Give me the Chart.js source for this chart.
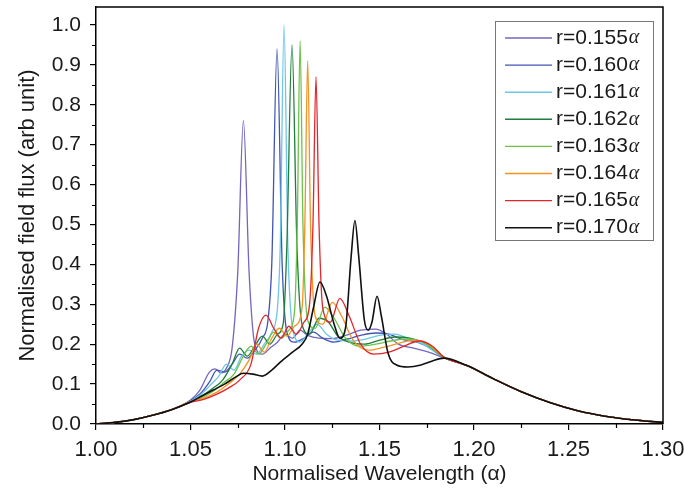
<!DOCTYPE html>
<html>
<head>
<meta charset="utf-8">
<script src="https://cdn.jsdelivr.net/npm/chart.js@4.4.1/dist/chart.umd.min.js"></script>
<style>
  html, body { margin: 0; padding: 0; background: #fff; }
  #wrap { width: 684px; height: 498px; }
</style>
</head>
<body>
<div id="wrap"><canvas id="flux-chart"></canvas></div>
<script>
// radius labels and colours of the curves
const radii = ['0.155', '0.160', '0.161', '0.162', '0.163', '0.164', '0.165', '0.170'];
const colours = ['#7466bf', '#3f55b3', '#6cc6e6', '#1f7d3f', '#6cc24a', '#f39322', '#e2262b', '#111111'];

// shared tails (left rise and right fall)
const leftX = [1.000, 1.010, 1.020, 1.030, 1.040];
const leftY = [0.000, 0.004, 0.011, 0.022, 0.036];
const rightX = [1.196, 1.210, 1.225, 1.240, 1.255, 1.270, 1.285, 1.300];
const rightY = [0.147, 0.114, 0.081, 0.054, 0.033, 0.019, 0.010, 0.004];

// r = 0.155a
const r155x = [1.050, 1.055, 1.060, 1.063, 1.066, 1.069, 1.072, 1.075, 1.078, 1.081, 1.084, 1.088, 1.092, 1.096, 1.100, 1.104, 1.108, 1.112, 1.118, 1.125, 1.132, 1.140, 1.148, 1.153, 1.160, 1.168, 1.176, 1.184];
const r155y = [0.060, 0.085, 0.130, 0.138, 0.128, 0.140, 0.190, 0.380, 0.760, 0.380, 0.200, 0.175, 0.190, 0.205, 0.225, 0.215, 0.235, 0.222, 0.215, 0.214, 0.222, 0.235, 0.238, 0.228, 0.200, 0.190, 0.180, 0.166];
// r = 0.160a
const r160x = [1.050, 1.055, 1.060, 1.064, 1.068, 1.072, 1.076, 1.080, 1.084, 1.088, 1.091, 1.093, 1.0958, 1.0985, 1.101, 1.105, 1.110, 1.115, 1.120, 1.126, 1.133, 1.140, 1.148, 1.155, 1.162, 1.170, 1.178, 1.184];
const r160y = [0.058, 0.075, 0.105, 0.135, 0.130, 0.150, 0.175, 0.165, 0.185, 0.215, 0.260, 0.400, 0.940, 0.400, 0.230, 0.205, 0.215, 0.230, 0.215, 0.205, 0.213, 0.222, 0.228, 0.225, 0.212, 0.205, 0.187, 0.167];
// r = 0.161a
const r161x = [1.050, 1.055, 1.060, 1.065, 1.069, 1.073, 1.077, 1.081, 1.085, 1.089, 1.093, 1.096, 1.0975, 1.0995, 1.1015, 1.104, 1.108, 1.112, 1.117, 1.122, 1.128, 1.135, 1.142, 1.150, 1.158, 1.165, 1.173, 1.184];
const r161y = [0.057, 0.072, 0.095, 0.120, 0.150, 0.135, 0.170, 0.185, 0.175, 0.200, 0.230, 0.290, 0.450, 1.000, 0.450, 0.240, 0.205, 0.225, 0.250, 0.225, 0.210, 0.208, 0.212, 0.222, 0.225, 0.215, 0.200, 0.167];
// r = 0.162a
const r162x = [1.050, 1.056, 1.062, 1.067, 1.072, 1.076, 1.080, 1.084, 1.088, 1.092, 1.096, 1.099, 1.101, 1.1037, 1.1063, 1.109, 1.113, 1.118, 1.123, 1.128, 1.134, 1.142, 1.150, 1.158, 1.166, 1.175, 1.184];
const r162y = [0.055, 0.070, 0.090, 0.110, 0.150, 0.190, 0.170, 0.195, 0.220, 0.200, 0.225, 0.250, 0.450, 0.950, 0.450, 0.250, 0.225, 0.265, 0.255, 0.220, 0.205, 0.200, 0.210, 0.218, 0.215, 0.200, 0.167];
// r = 0.163a
const r163x = [1.050, 1.056, 1.062, 1.068, 1.073, 1.078, 1.082, 1.086, 1.090, 1.094, 1.098, 1.102, 1.105, 1.1065, 1.108, 1.1095, 1.112, 1.116, 1.121, 1.126, 1.132, 1.140, 1.148, 1.156, 1.164, 1.173, 1.184];
const r163y = [0.055, 0.066, 0.082, 0.105, 0.125, 0.170, 0.195, 0.175, 0.200, 0.230, 0.215, 0.235, 0.280, 0.500, 0.960, 0.500, 0.260, 0.240, 0.293, 0.265, 0.215, 0.195, 0.200, 0.208, 0.213, 0.205, 0.168];
// r = 0.164a
const r164x = [1.050, 1.057, 1.064, 1.070, 1.076, 1.081, 1.085, 1.089, 1.093, 1.097, 1.101, 1.105, 1.109, 1.1105, 1.112, 1.1135, 1.116, 1.120, 1.125, 1.130, 1.136, 1.144, 1.152, 1.160, 1.168, 1.176, 1.184];
const r164y = [0.056, 0.065, 0.080, 0.100, 0.125, 0.160, 0.200, 0.180, 0.215, 0.240, 0.220, 0.245, 0.290, 0.500, 0.910, 0.500, 0.270, 0.250, 0.305, 0.270, 0.210, 0.185, 0.192, 0.202, 0.210, 0.200, 0.168];
// r = 0.165a
const r165x = [1.050, 1.057, 1.064, 1.070, 1.076, 1.082, 1.086, 1.090, 1.094, 1.098, 1.102, 1.106, 1.110, 1.113, 1.1148, 1.1164, 1.118, 1.120, 1.124, 1.129, 1.134, 1.140, 1.147, 1.155, 1.163, 1.171, 1.178, 1.184];
const r165y = [0.054, 0.062, 0.075, 0.090, 0.110, 0.150, 0.240, 0.273, 0.240, 0.215, 0.245, 0.225, 0.255, 0.300, 0.500, 0.870, 0.500, 0.290, 0.255, 0.315, 0.270, 0.200, 0.175, 0.180, 0.195, 0.208, 0.195, 0.168];
// r = 0.170a
const r170x = [1.050, 1.056, 1.062, 1.068, 1.074, 1.078, 1.083, 1.088, 1.093, 1.098, 1.104, 1.109, 1.112, 1.115, 1.1185, 1.122, 1.126, 1.129, 1.132, 1.135, 1.137, 1.139, 1.142, 1.144, 1.146, 1.1487, 1.151, 1.1545, 1.159, 1.165, 1.172, 1.178, 1.184];
const r170y = [0.055, 0.070, 0.085, 0.100, 0.118, 0.127, 0.125, 0.120, 0.135, 0.157, 0.180, 0.200, 0.225, 0.290, 0.356, 0.320, 0.250, 0.215, 0.240, 0.420, 0.510, 0.420, 0.260, 0.235, 0.255, 0.320, 0.270, 0.178, 0.148, 0.143, 0.148, 0.158, 0.165];

const xTicks = [1.00, 1.05, 1.10, 1.15, 1.20, 1.25, 1.30];
const yTicks = [0.0, 0.1, 0.2, 0.3, 0.4, 0.5, 0.6, 0.7, 0.8, 0.9, 1.0];

const seriesX = [r155x, r160x, r161x, r162x, r163x, r164x, r165x, r170x];
const seriesY = [r155y, r160y, r161y, r162y, r163y, r164y, r165y, r170y];

function toPoints(xs, ys) {
    const allX = leftX.concat(xs, rightX);
    const allY = leftY.concat(ys, rightY);
    return allX.map((x, i) => ({ x: x, y: allY[i] }));
}

const datasets = radii.map((r, i) => ({
    label: 'r=' + r + 'α',
    data: toPoints(seriesX[i], seriesY[i]),
    borderColor: colours[i],
    borderWidth: i === 7 ? 1.6 : 1.3,
    pointRadius: 0,
    fill: false,
    cubicInterpolationMode: 'monotone'
}));
// draw black on top as in the figure
datasets.reverse();

const FONT = 'Liberation Sans, Arial, sans-serif';

// frame, minor ticks and the legend box
const decorations = {
    id: 'decorations',
    afterDraw(chart) {
        const c = chart.ctx;
        const a = chart.chartArea;
        const xs = chart.scales.x, ys = chart.scales.y;
        c.save();
        c.strokeStyle = '#000';
        c.lineWidth = 1.5;
        c.beginPath();
        c.moveTo(a.left, a.top);
        c.lineTo(a.right, a.top);
        c.lineTo(a.right, a.bottom);
        c.stroke();
        c.lineWidth = 1.2;
        c.beginPath();
        for (let v = 0.05; v < 1.0; v += 0.1) {
            const py = Math.round(ys.getPixelForValue(v)) + 0.5;
            c.moveTo(a.left - 4, py);
            c.lineTo(a.left, py);
        }
        for (let v = 1.025; v < 1.3; v += 0.05) {
            const px = Math.round(xs.getPixelForValue(v)) + 0.5;
            c.moveTo(px, a.bottom);
            c.lineTo(px, a.bottom + 4);
        }
        c.stroke();

        // legend
        const bx = 495, by = 21, bw = 158, bh = 219, rowH = 27.1;
        c.fillStyle = '#fff';
        c.fillRect(bx, by, bw, bh);
        c.strokeStyle = '#777';
        c.lineWidth = 1;
        c.strokeRect(bx + 0.5, by + 0.5, bw, bh);
        radii.forEach((r, i) => {
            const y = by + 17 + i * rowH;
            c.strokeStyle = colours[i];
            c.lineWidth = 1.4;
            c.beginPath();
            c.moveTo(505, y);
            c.lineTo(552, y);
            c.stroke();
            c.fillStyle = '#1a1a1a';
            c.textBaseline = 'middle';
            c.font = '21px ' + FONT;
            const t = 'r=' + r;
            c.fillText(t, 556, y);
            const w = c.measureText(t).width;
            c.font = 'italic 20px "Liberation Serif", "DejaVu Serif", serif';
            c.fillText('α', 556 + w + 1, y);
        });
        c.restore();
    }
};

new Chart(document.getElementById('flux-chart'), {
    type: 'line',
    data: { datasets: datasets },
    plugins: [decorations],
    options: {
        responsive: true,
        maintainAspectRatio: false,
        animation: false,
        layout: { padding: { left: 0, right: 21, top: 7, bottom: 11 } },
        plugins: {
            legend: { display: false },
            tooltip: { enabled: false }
        },
        scales: {
            x: {
                type: 'linear',
                min: 1.0,
                max: 1.3,
                afterFit(s) { s.height = 63; s.paddingLeft = 0; s.paddingRight = 0; },
                afterBuildTicks(s) { s.ticks = xTicks.map(v => ({ value: v })); },
                ticks: {
                    color: '#1a1a1a',
                    font: { family: FONT, size: 22 },
                    padding: 7,
                    maxRotation: 0,
                    callback: v => v.toFixed(2)
                },
                grid: { drawOnChartArea: false, drawTicks: true, tickLength: 6, color: '#000', lineWidth: 1.2 },
                border: { display: true, color: '#000', width: 1.5 },
                title: {
                    display: true,
                    text: 'Normalised Wavelength (α)',
                    color: '#1a1a1a',
                    font: { family: FONT, size: 21 },
                    padding: { top: 0, bottom: 0 }
                }
            },
            y: {
                min: 0,
                max: 1.045,
                afterFit(s) { s.width = 96; s.paddingTop = 0; s.paddingBottom = 0; },
                afterBuildTicks(s) { s.ticks = yTicks.map(v => ({ value: v })); },
                ticks: {
                    color: '#1a1a1a',
                    font: { family: FONT, size: 21 },
                    padding: 9,
                    callback: v => v.toFixed(1)
                },
                grid: { drawOnChartArea: false, drawTicks: true, tickLength: 6, color: '#000', lineWidth: 1.2 },
                border: { display: true, color: '#000', width: 1.5 },
                title: {
                    display: true,
                    text: 'Normalised field flux (arb unit)',
                    color: '#1a1a1a',
                    font: { family: FONT, size: 22 },
                    padding: { top: 15, bottom: 0 }
                }
            }
        }
    }
});
</script>
</body>
</html>
